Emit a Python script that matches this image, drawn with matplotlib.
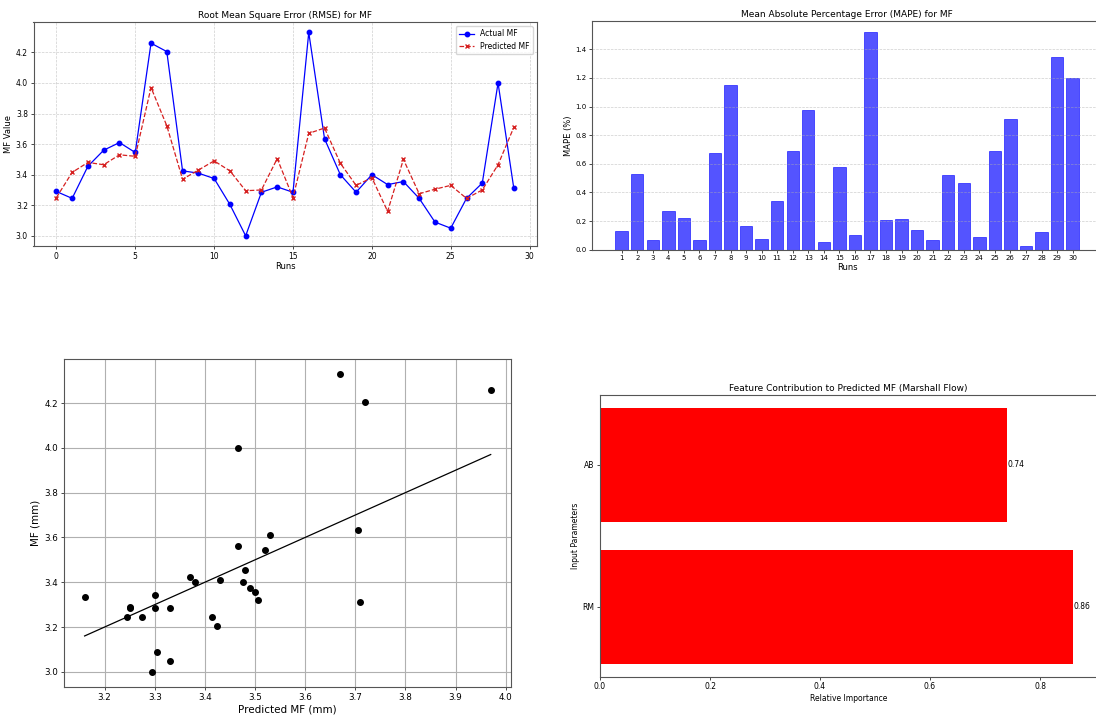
import matplotlib
matplotlib.use('Agg')
import matplotlib.pyplot as plt
import numpy as np

# data
runs = list(range(30))
actual_mf = [3.29, 3.245, 3.455, 3.56, 3.61, 3.545, 4.26, 4.205, 3.425, 3.41,
             3.375, 3.205, 3.0, 3.285, 3.32, 3.285, 4.33, 3.635, 3.40, 3.285,
             3.40, 3.335, 3.355, 3.245, 3.09, 3.05, 3.245, 3.345, 4.0, 3.31]
predicted_mf = [3.25, 3.415, 3.48, 3.465, 3.53, 3.52, 3.97, 3.72, 3.37, 3.43,
                3.49, 3.425, 3.295, 3.30, 3.505, 3.25, 3.67, 3.705, 3.475, 3.33,
                3.38, 3.16, 3.50, 3.275, 3.305, 3.33, 3.245, 3.30, 3.465, 3.71]
mape_runs = list(range(1, 31))
mape = [0.13, 0.53, 0.07, 0.27, 0.22, 0.065, 0.675, 1.15, 0.165, 0.075,
        0.34, 0.69, 0.975, 0.055, 0.575, 0.105, 1.52, 0.205, 0.215, 0.14,
        0.065, 0.525, 0.465, 0.09, 0.69, 0.915, 0.025, 0.125, 1.345, 1.20]
features = ['RM', 'AB']
importance = [0.86, 0.74]

W, H = 1096, 720
fig = plt.figure(figsize=(W / 100, H / 100), dpi=100)


def px_axes(left, top, right, bottom):
    # axes from pixel box of the reference
    return fig.add_axes([left / W, 1 - bottom / H, (right - left) / W, (bottom - top) / H])


# ---- top left: actual vs predicted lines
ax1 = px_axes(33.5, 22.3, 536.7, 246)
ax1.plot(runs, actual_mf, color='blue', marker='o', markersize=3.2,
         linewidth=0.9, label='Actual MF')
ax1.plot(runs, predicted_mf, color='#d62020', marker='x', markersize=3.2,
         linestyle='--', linewidth=0.9, label='Predicted MF')
ax1.set_title('Root Mean Square Error (RMSE) for MF', fontsize=6.5, pad=3)
ax1.set_xlabel('Runs', fontsize=6, labelpad=1)
ax1.set_ylabel('MF Value', fontsize=6, labelpad=2)
ax1.tick_params(labelsize=5.5, length=2, width=0.5, pad=2)
ax1.grid(True, linestyle='--', linewidth=0.5, alpha=0.6)
ax1.legend(fontsize=5.5, loc='upper right', handlelength=2, borderpad=0.4)

# ---- top right: MAPE bars
ax2 = px_axes(592.3, 21.3, 1102, 249.7)
ax2.bar(mape_runs, mape, color='blue', alpha=0.67, edgecolor='blue', linewidth=0.6)
ax2.set_xticks(mape_runs)
ax2.set_title('Mean Absolute Percentage Error (MAPE) for MF', fontsize=6.5, pad=3)
ax2.set_xlabel('Runs', fontsize=6, labelpad=1)
ax2.set_ylabel('MAPE (%)', fontsize=6, labelpad=2)
ax2.tick_params(labelsize=5, length=2, width=0.5, pad=2)
ax2.grid(True, axis='y', linestyle='--', linewidth=0.5, alpha=0.6)

# ---- bottom left: predicted vs actual scatter
ax3 = px_axes(64.3, 359, 511, 686.7)
ax3.scatter(predicted_mf, actual_mf, color='black', s=16, zorder=3)
lo, hi = min(predicted_mf), max(predicted_mf)
ax3.plot([lo, hi], [lo, hi], color='black', linewidth=0.9)
ax3.set_xlabel('Predicted MF (mm)', fontsize=7.5, labelpad=2)
ax3.set_ylabel('MF (mm)', fontsize=7.5, labelpad=3)
ax3.tick_params(labelsize=6.3, length=2.5, width=0.5, pad=2)
ax3.grid(True, color='#b0b0b0', linewidth=0.8)

# ---- bottom right: feature contribution
ax4 = px_axes(600, 395, 1096.7, 676.7)
ax4.barh(features, importance, color='red')
for f, v in zip(features, importance):
    ax4.text(v, f, f'{v:.2f}', va='center', ha='left', fontsize=5.5)
ax4.set_title('Feature Contribution to Predicted MF (Marshall Flow)', fontsize=6.5, pad=3)
ax4.set_xlabel('Relative Importance', fontsize=5.5, labelpad=2)
ax4.set_ylabel('Input Parameters', fontsize=5.5, labelpad=2)
ax4.tick_params(labelsize=5.5, length=2, width=0.5, pad=2)

for ax in (ax1, ax2, ax3, ax4):
    for sp in ax.spines.values():
        sp.set_linewidth(0.8)
        sp.set_color('#555555')

fig.savefig('out.png', dpi=100)
